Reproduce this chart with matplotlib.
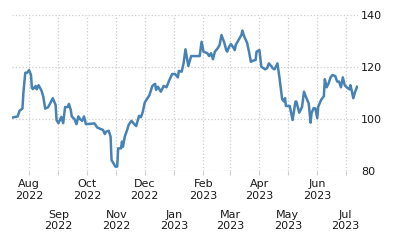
import matplotlib
matplotlib.use("Agg")
import matplotlib.pyplot as plt
import matplotlib.dates as mdates
import pandas as pd

# daily index values (approximate)
dates = [
    "2022-07-15", "2022-07-20", "2022-07-22", "2022-07-25", "2022-07-26", "2022-07-28",
    "2022-07-30", "2022-08-01", "2022-08-03", "2022-08-04", "2022-08-05", "2022-08-08",
    "2022-08-09", "2022-08-11", "2022-08-14", "2022-08-16", "2022-08-18", "2022-08-21",
    "2022-08-23", "2022-08-26", "2022-08-29", "2022-08-30", "2022-09-01", "2022-09-04",
    "2022-09-06", "2022-09-08", "2022-09-11", "2022-09-12", "2022-09-14", "2022-09-15",
    "2022-09-18", "2022-09-20", "2022-09-22", "2022-09-24", "2022-09-26", "2022-09-28",
    "2022-09-30", "2022-10-09", "2022-10-12", "2022-10-14", "2022-10-18", "2022-10-20",
    "2022-10-21", "2022-10-24", "2022-10-26", "2022-10-27", "2022-10-29", "2022-10-31",
    "2022-11-02", "2022-11-03", "2022-11-06", "2022-11-07", "2022-11-08", "2022-11-10",
    "2022-11-13", "2022-11-14", "2022-11-17", "2022-11-20", "2022-11-22", "2022-11-25",
    "2022-11-27", "2022-11-29", "2022-12-01", "2022-12-04", "2022-12-06", "2022-12-09",
    "2022-12-12", "2022-12-13", "2022-12-15", "2022-12-18", "2022-12-21", "2022-12-24",
    "2022-12-27", "2022-12-30", "2023-01-02", "2023-01-05", "2023-01-06", "2023-01-09",
    "2023-01-11", "2023-01-13", "2023-01-14", "2023-01-16", "2023-01-19", "2023-01-28",
    "2023-01-30", "2023-02-01", "2023-02-05", "2023-02-07", "2023-02-09", "2023-02-11",
    "2023-02-13", "2023-02-16", "2023-02-18", "2023-02-20", "2023-02-23", "2023-02-25",
    "2023-02-26", "2023-02-28", "2023-03-02", "2023-03-05", "2023-03-06", "2023-03-07",
    "2023-03-10", "2023-03-13", "2023-03-14", "2023-03-16", "2023-03-19", "2023-03-21",
    "2023-03-23", "2023-03-25", "2023-03-28", "2023-03-29", "2023-04-01", "2023-04-03",
    "2023-04-07", "2023-04-09", "2023-04-11", "2023-04-14", "2023-04-15", "2023-04-17",
    "2023-04-20", "2023-04-22", "2023-04-25", "2023-04-27", "2023-04-28", "2023-04-29",
    "2023-05-03", "2023-05-06", "2023-05-09", "2023-05-10", "2023-05-13", "2023-05-16",
    "2023-05-18", "2023-05-20", "2023-05-23", "2023-05-25", "2023-05-26", "2023-05-28",
    "2023-05-30", "2023-06-01", "2023-06-02", "2023-06-05", "2023-06-08", "2023-06-09",
    "2023-06-11", "2023-06-13", "2023-06-15", "2023-06-17", "2023-06-20", "2023-06-22",
    "2023-06-24", "2023-06-26", "2023-06-28", "2023-06-30", "2023-07-02", "2023-07-05",
    "2023-07-06", "2023-07-08", "2023-07-09", "2023-07-11", "2023-07-13",
]
values = [
    100.6, 101.0, 103.2, 104.0, 110.0, 117.8,
    117.8, 118.8, 117.0, 112.0, 111.5, 112.7,
    111.4, 113.0, 111.0, 108.6, 104.0, 104.5,
    105.8, 108.0, 105.4, 99.6, 98.4, 100.8,
    98.4, 104.6, 104.6, 105.8, 103.5, 101.0,
    99.9, 98.0, 101.0, 99.9, 99.3, 101.0,
    98.0, 98.3, 96.7, 96.4, 95.8, 94.2,
    95.1, 95.5, 93.2, 84.2, 83.0, 81.7,
    81.7, 88.7, 88.7, 91.3, 89.3, 93.2,
    96.4, 97.7, 99.3, 98.0, 97.3, 101.2,
    100.7, 102.8, 106.3, 108.0, 109.2, 112.7,
    113.5, 111.2, 112.4, 110.5, 112.7, 112.2,
    115.0, 117.3, 117.3, 116.0, 118.5, 118.2,
    121.4, 126.8, 124.6, 120.4, 124.2, 124.2,
    129.7, 125.9, 125.3, 124.2, 125.3, 123.0,
    125.9, 127.2, 128.5, 132.3, 129.3, 126.5,
    125.9, 127.8, 128.8, 127.2, 126.5, 128.5,
    130.4, 132.3, 134.0, 131.7, 129.3, 125.9,
    122.0, 122.4, 122.7, 125.9, 126.5, 120.1,
    119.1, 119.5, 121.4, 120.1, 119.5, 119.1,
    121.4, 116.3, 107.6, 106.7, 108.0, 105.0,
    105.0, 99.6, 106.7, 106.7, 102.4, 104.7,
    110.5, 108.6, 106.0, 98.6, 102.2, 104.1,
    104.1, 100.3, 104.7, 107.3, 108.8, 115.3,
    112.2, 113.7, 116.0, 116.9, 116.5, 114.4,
    114.4, 112.2, 116.0, 113.0, 112.2, 111.4,
    113.0, 109.9, 108.0, 110.5, 112.4,
]
y_ticks = [80, 100, 120, 140]

x = pd.to_datetime(dates)

fig = plt.figure(figsize=(4, 2.5), dpi=100)
ax = fig.add_axes([0.03, 0.316, 0.865, 0.624])
ax.plot(x, values, color="#4682b4", linewidth=1.8, solid_joinstyle="round")

ax.set_xlim(pd.Timestamp("2022-07-14"), pd.Timestamp("2023-07-14"))
ax.set_ylim(80, 140)
ax.set_yticks(y_ticks)
ax.yaxis.tick_right()

# labels alternate between two rows: Aug/Oct/Dec... up, Sep/Nov/Jan... down
ax.xaxis.set_major_locator(mdates.MonthLocator(bymonth=[2, 4, 6, 8, 10, 12]))
ax.xaxis.set_minor_locator(mdates.MonthLocator(bymonth=[1, 3, 5, 7, 9, 11]))
ax.xaxis.set_major_formatter(mdates.DateFormatter("%b\n%Y"))
ax.xaxis.set_minor_formatter(mdates.DateFormatter("%b\n%Y"))

ax.tick_params(axis="x", which="major", length=3, width=0.8, color="#cccccc",
               pad=3, labelsize=8, labelcolor="#1a1a1a")
ax.tick_params(axis="x", which="minor", length=3, width=0.8, color="#cccccc",
               pad=25, labelsize=8, labelcolor="#1a1a1a")
ax.tick_params(axis="y", length=0, pad=2, labelsize=8, labelcolor="#1a1a1a")

ax.grid(True, which="both", axis="x", color="#cccccc", linestyle=":", linewidth=0.9)
ax.grid(True, axis="y", color="#cccccc", linestyle=":", linewidth=0.9)
for s in ax.spines.values():
    s.set_visible(False)

fig.savefig("out.png", dpi=100)
